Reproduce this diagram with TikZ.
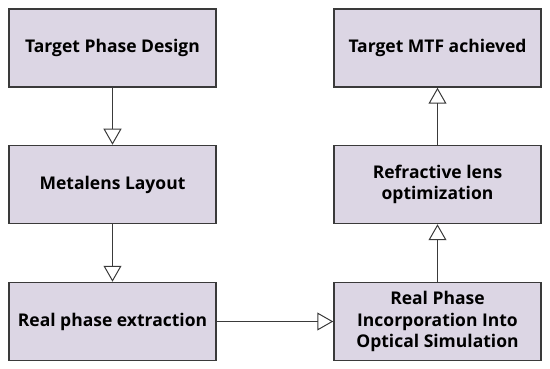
\documentclass[tikz,border=0pt]{standalone}
\usepackage{fontspec}
\setmainfont{Open Sans}
\usetikzlibrary{arrows.meta}
\definecolor{boxfill}{HTML}{DCD6E4}
\definecolor{boxline}{HTML}{3A3A3A}
\tikzset{
  stepbox/.style={draw=boxline, fill=boxfill, line width=1.5pt, minimum width=207pt, minimum height=78pt,
    inner sep=0pt, align=center, font=\bfseries\fontsize{17.5}{21.5}\selectfont, text=black},
  flow/.style={draw=boxline, line width=1pt, -{Triangle[open, length=16pt, width=18pt, line width=1pt]}}
}
\begin{document}
\begin{tikzpicture}[x=1pt,y=-1pt]
\useasboundingbox (0,0) rectangle (550,369);
\node[stepbox] (a) at (112.5,48) {Target Phase Design};
\node[stepbox] (b) at (112.5,184.5) {Metalens Layout};
\node[stepbox] (c) at (112.5,321.5) {Real phase extraction};
\node[stepbox] (d) at (437.5,321.5) {Real Phase\\Incorporation Into\\Optical Simulation};
\node[stepbox] (e) at (437.5,184.5) {Refractive lens\\optimization};
\node[stepbox] (f) at (437.5,48) {Target MTF achieved};
\draw[flow] (a) -- (b);
\draw[flow] (b) -- (c);
\draw[flow] (c) -- (d);
\draw[flow] (d) -- (e);
\draw[flow] (e) -- (f);
\end{tikzpicture}
\end{document}
